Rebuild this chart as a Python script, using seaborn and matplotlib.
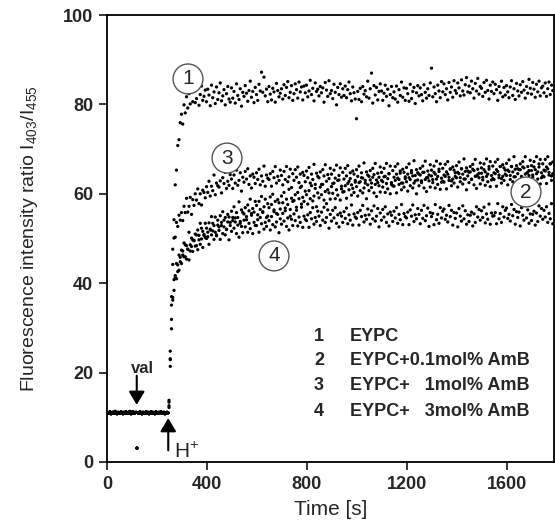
import numpy as np
import pandas as pd
import matplotlib
matplotlib.use("Agg")
import matplotlib.pyplot as plt
import seaborn as sns

# 加入 H+ 之前的基线 (每 4 s 一个点)
baseline = [
    11.1, 10.9, 11.0, 11.2, 10.8, 11.0, 11.1, 10.9, 11.3, 11.0,
    10.8, 11.1, 11.0, 10.9, 11.2, 11.0, 10.8, 11.1, 10.9, 11.2,
    11.0, 10.9, 11.1, 11.3, 10.8, 11.0, 11.2, 10.9, 11.0, 11.1,
    3.1, 11.0, 10.9, 11.2, 11.0, 10.8, 11.1, 11.0, 10.9, 11.2,
    11.0, 11.1, 10.8, 11.0, 11.2, 10.9, 11.1, 11.0, 10.8, 11.2,
    11.0, 10.9, 11.1, 11.0, 11.2, 10.9, 11.0, 11.1, 10.8, 11.0,
    11.1, 11.0,
]
base_step = 4

# 加入 H+ 之后 (从 248 s 起每 5 s 一个点)
rise_start = 248
rise_step = 5

curve1 = [
    13.4, 24.8, 35.1, 47.6, 54.2, 62.0, 65.3, 70.8, 72.1, 75.9,
    77.8, 75.6, 79.9, 78.1, 81.7, 79.2, 82.4, 80.1, 83.0, 80.6,
    82.9, 80.4, 81.3, 83.6, 79.8, 82.2, 84.1, 80.9, 81.8, 83.2,
    80.6, 83.4, 82.1, 79.7, 84.3, 81.5, 82.8, 80.2, 83.9, 81.1,
    82.6, 84.8, 80.8, 81.9, 83.3, 79.9, 82.4, 84.0, 81.2, 80.5,
    83.7, 81.4, 82.9, 80.3, 84.6, 82.0, 81.1, 83.5, 79.6, 82.7,
    81.8, 84.2, 82.5, 80.7, 83.1, 85.2, 81.6, 82.9, 80.4, 83.8,
    82.2, 80.9, 84.5, 83.0, 87.2, 82.7, 86.1, 81.9, 83.4, 80.6,
    84.0, 82.3, 81.0, 83.6, 82.8, 80.5, 84.7, 83.1, 81.7, 82.5,
    83.5, 81.2, 84.4, 82.0, 83.8, 85.1, 81.5, 82.7, 84.2, 80.9,
    82.4, 84.6, 83.3, 81.4, 85.0, 82.8, 83.9, 81.0, 84.1, 82.6,
    84.3, 81.7, 83.0, 85.4, 82.2, 83.6, 80.8, 84.8, 82.9, 83.4,
    81.9, 84.0, 82.6, 83.7, 80.5, 84.9, 83.2, 81.8, 85.3, 82.4,
    83.1, 81.3, 84.5, 82.7, 79.9, 83.8, 82.2, 84.6, 81.6, 83.5,
    82.0, 84.1, 81.5, 83.3, 85.0, 82.4, 80.8, 83.9, 82.6, 81.2,
    76.8, 82.9, 81.1, 83.6, 80.6, 84.0, 82.3, 83.1, 81.7, 85.2,
    81.4, 83.5, 87.0, 80.3, 84.2, 82.1, 83.8, 81.0, 82.9, 84.6,
    83.0, 80.9, 82.5, 84.3, 81.8, 83.4, 79.7, 82.2, 84.0, 81.5,
    82.8, 81.2, 84.1, 80.5, 83.3, 82.0, 85.0, 81.6, 83.7, 80.9,
    83.6, 82.4, 80.7, 84.5, 81.3, 82.9, 83.8, 80.2, 82.6, 84.2,
    81.9, 83.7, 82.2, 80.8, 84.4, 82.7, 81.4, 83.5, 82.0, 84.8,
    88.1, 81.7, 83.9, 82.4, 80.6, 84.3, 83.0, 81.5, 85.1, 82.8,
    84.6, 82.2, 83.5, 81.0, 84.9, 82.7, 83.9, 81.6, 85.3, 83.1,
    82.5, 84.8, 83.7, 81.9, 85.5, 83.0, 82.1, 84.4, 86.0, 82.8,
    84.1, 82.6, 85.2, 83.5, 81.4, 84.7, 83.0, 85.8, 82.3, 84.0,
    83.6, 81.8, 84.9, 82.7, 85.4, 83.1, 81.2, 84.3, 82.9, 85.0,
    82.4, 84.5, 83.3, 80.9, 84.0, 82.6, 85.2, 81.7, 83.8, 82.1,
    84.2, 82.8, 81.5, 83.9, 85.3, 82.0, 83.5, 81.1, 84.7, 83.0,
    81.9, 84.4, 82.7, 85.1, 83.2, 81.4, 84.0, 82.5, 85.6, 83.6,
    82.3, 84.9, 83.4, 81.6, 84.5, 82.8, 85.2, 81.9, 83.7, 84.1,
    82.6, 84.8, 81.8, 83.5, 85.0, 82.2, 84.3, 83.1,
]

curve2 = [
    13.8, 21.4, 31.9, 36.2, 40.8, 41.3, 44.4, 42.6, 46.3, 44.8,
    47.4, 46.3, 49.0, 45.9, 48.4, 47.6, 51.4, 47.2, 50.1, 49.7,
    49.5, 51.0, 48.4, 51.9, 50.7, 53.4, 49.9, 51.6, 50.9, 53.4,
    52.3, 50.4, 53.5, 51.9, 54.9, 51.7, 52.9, 54.8, 50.8, 54.1,
    52.6, 55.1, 53.6, 56.0, 52.6, 54.7, 52.1, 55.4, 54.8, 53.6,
    56.1, 54.7, 57.1, 53.7, 55.8, 54.7, 58.2, 53.8, 56.4, 55.8,
    55.5, 56.9, 54.2, 57.5, 56.2, 58.8, 55.2, 56.7, 55.9, 58.3,
    57.4, 55.3, 58.3, 56.5, 59.4, 56.0, 57.1, 58.8, 54.7, 57.8,
    56.9, 59.3, 57.6, 59.9, 56.4, 58.3, 55.6, 58.7, 58.0, 56.6,
    59.5, 58.0, 60.3, 56.8, 58.8, 57.6, 61.0, 56.5, 59.0, 58.3,
    58.5, 59.8, 57.0, 60.3, 58.9, 61.4, 57.7, 59.2, 58.3, 60.6,
    59.8, 57.7, 60.7, 58.9, 61.8, 58.4, 59.5, 61.2, 57.1, 60.2,
    59.1, 61.5, 59.8, 62.1, 58.6, 60.5, 57.8, 60.9, 60.2, 58.8,
    61.6, 60.1, 62.4, 58.9, 60.9, 59.7, 63.1, 58.6, 61.1, 60.4,
    60.5, 61.8, 59.0, 62.3, 60.9, 63.4, 59.7, 61.2, 60.3, 62.6,
    61.6, 59.5, 62.5, 60.7, 63.6, 60.2, 61.3, 63.0, 58.9, 62.0,
    60.7, 63.1, 61.4, 63.7, 60.2, 62.1, 59.4, 62.5, 61.8, 60.4,
    63.0, 61.5, 63.8, 60.3, 62.3, 61.1, 64.5, 60.0, 62.5, 61.8,
    61.7, 63.0, 60.2, 63.5, 62.1, 64.6, 60.9, 62.4, 61.5, 63.8,
    62.7, 60.6, 63.6, 61.8, 64.7, 61.3, 62.4, 64.1, 60.0, 63.1,
    61.8, 64.2, 62.5, 64.8, 61.3, 63.2, 60.5, 63.6, 62.9, 61.5,
    64.0, 62.5, 64.8, 61.3, 63.3, 62.1, 65.5, 61.0, 63.5, 62.8,
    62.6, 63.9, 61.1, 64.4, 63.0, 65.5, 61.8, 63.3, 62.4, 64.7,
    63.6, 61.5, 64.5, 62.7, 65.6, 62.2, 63.3, 65.0, 60.9, 64.0,
    62.5, 64.9, 63.2, 65.5, 62.0, 63.9, 61.2, 64.3, 63.6, 62.2,
    64.6, 63.1, 65.4, 61.9, 63.9, 62.7, 66.1, 61.6, 64.1, 63.4,
    63.2, 64.5, 61.7, 65.0, 63.6, 66.1, 62.4, 63.9, 63.0, 65.3,
    64.1, 62.0, 65.0, 63.2, 66.1, 62.7, 63.8, 65.5, 61.4, 64.5,
    63.0, 65.4, 63.7, 66.0, 62.5, 64.4, 61.7, 64.8, 64.1, 62.7,
    65.2, 63.7, 66.0, 62.5, 64.5, 63.3, 66.7, 62.2, 64.7, 64.0,
    63.8, 65.1, 62.3, 65.6, 64.2, 66.7, 63.0, 64.5,
]

curve3 = [
    12.6, 23.1, 37.0, 44.2, 50.1, 50.3, 53.6, 52.7, 55.2, 54.1,
    55.8, 54.0, 57.2, 55.8, 59.0, 55.9, 57.2, 59.2, 55.4, 58.7,
    57.4, 60.0, 58.6, 61.1, 57.8, 60.0, 57.5, 60.8, 60.3, 59.1,
    61.6, 60.3, 62.8, 59.5, 61.7, 60.7, 64.2, 59.8, 62.4, 61.8,
    61.5, 62.9, 60.2, 63.6, 62.3, 64.8, 61.2, 62.8, 61.9, 64.3,
    63.3, 61.2, 64.2, 62.4, 65.3, 61.9, 63.0, 64.7, 60.6, 63.7,
    62.6, 65.0, 63.3, 65.6, 62.1, 64.0, 61.3, 64.4, 63.7, 62.3,
    64.7, 63.2, 65.5, 62.0, 64.0, 62.8, 66.2, 61.7, 64.2, 63.5,
    63.2, 64.5, 61.7, 65.0, 63.6, 66.1, 62.4, 63.9, 63.0, 65.3,
    64.1, 62.0, 65.0, 63.2, 66.1, 62.7, 63.8, 65.5, 61.4, 64.5,
    63.0, 65.4, 63.7, 66.0, 62.5, 64.4, 61.7, 64.8, 64.1, 62.7,
    65.1, 63.6, 65.9, 62.4, 64.4, 63.2, 66.6, 62.1, 64.6, 63.9,
    63.6, 64.9, 62.1, 65.4, 64.0, 66.5, 62.8, 64.3, 63.4, 65.7,
    64.4, 62.3, 65.3, 63.5, 66.4, 63.0, 64.1, 65.8, 61.7, 64.8,
    63.3, 65.7, 64.0, 66.3, 62.8, 64.7, 62.0, 65.1, 64.4, 63.0,
    65.4, 63.9, 66.2, 62.7, 64.7, 63.5, 66.9, 62.4, 64.9, 64.2,
    63.9, 65.2, 62.4, 65.7, 64.3, 66.8, 63.1, 64.6, 63.7, 66.0,
    64.8, 62.7, 65.7, 63.9, 66.8, 63.4, 64.5, 66.2, 62.1, 65.2,
    63.7, 66.1, 64.4, 66.7, 63.2, 65.1, 62.4, 65.5, 64.8, 63.4,
    65.9, 64.4, 66.7, 63.2, 65.2, 64.0, 67.4, 62.9, 65.4, 64.7,
    64.4, 65.7, 62.9, 66.2, 64.8, 67.3, 63.6, 65.1, 64.2, 66.5,
    65.3, 63.2, 66.2, 64.4, 67.3, 63.9, 65.0, 66.7, 62.6, 65.7,
    64.2, 66.6, 64.9, 67.2, 63.7, 65.6, 62.9, 66.0, 65.3, 63.9,
    66.3, 64.8, 67.1, 63.6, 65.6, 64.4, 67.8, 63.3, 65.8, 65.1,
    64.8, 66.1, 63.3, 66.6, 65.2, 67.7, 64.0, 65.5, 64.6, 66.9,
    65.8, 63.7, 66.7, 64.9, 67.8, 64.4, 65.5, 67.2, 63.1, 66.2,
    64.7, 67.1, 65.4, 67.7, 64.2, 66.1, 63.4, 66.5, 65.8, 64.4,
    66.8, 65.3, 67.6, 64.1, 66.1, 64.9, 68.3, 63.8, 66.3, 65.6,
    65.4, 66.7, 63.9, 67.2, 65.8, 68.3, 64.6, 66.1, 65.2, 67.5,
    66.3, 64.2, 67.2, 65.4, 68.3, 64.9, 66.0, 67.7, 63.6, 66.7,
    65.3, 67.7, 66.0, 68.3, 64.8, 66.7, 64.0, 67.1,
]

curve4 = [
    12.2, 22.9, 29.8, 36.8, 38.4, 41.7, 41.0, 44.1, 42.9, 45.8,
    44.4, 47.2, 45.9, 48.6, 45.4, 47.6, 45.2, 48.6, 48.2, 47.1,
    49.6, 48.3, 50.8, 47.5, 49.7, 48.7, 52.3, 48.0, 50.7, 50.2,
    50.0, 51.4, 48.7, 52.1, 50.8, 53.4, 49.8, 51.4, 50.6, 53.0,
    51.8, 49.8, 52.9, 51.1, 54.1, 50.8, 52.0, 53.7, 49.7, 52.9,
    51.6, 54.0, 52.3, 54.6, 51.1, 53.0, 50.3, 53.4, 52.7, 51.3,
    54.1, 52.6, 54.9, 51.4, 53.4, 52.2, 55.6, 51.1, 53.6, 52.9,
    52.9, 54.2, 51.4, 54.7, 53.3, 55.8, 52.1, 53.6, 52.7, 55.0,
    54.0, 51.9, 54.9, 53.1, 56.0, 52.6, 53.7, 55.4, 51.3, 54.4,
    53.2, 55.6, 53.9, 56.2, 52.7, 54.6, 51.9, 55.0, 54.3, 52.9,
    55.5, 54.0, 56.3, 52.8, 54.8, 53.6, 57.0, 52.5, 55.0, 54.3,
    54.0, 55.3, 52.5, 55.8, 54.4, 56.9, 53.2, 54.7, 53.8, 56.1,
    55.0, 52.9, 55.9, 54.1, 57.0, 53.6, 54.7, 56.4, 52.3, 55.4,
    53.9, 56.3, 54.6, 56.9, 53.4, 55.3, 52.6, 55.7, 55.0, 53.6,
    56.0, 54.5, 56.8, 53.3, 55.3, 54.1, 57.5, 53.0, 55.5, 54.8,
    54.5, 55.8, 53.0, 56.3, 54.9, 57.4, 53.7, 55.2, 54.3, 56.6,
    55.3, 53.2, 56.2, 54.4, 57.3, 53.9, 55.0, 56.7, 52.6, 55.7,
    54.1, 56.5, 54.8, 57.1, 53.6, 55.5, 52.8, 55.9, 55.2, 53.8,
    56.1, 54.6, 56.9, 53.4, 55.4, 54.2, 57.6, 53.1, 55.6, 54.9,
    54.6, 55.9, 53.1, 56.4, 55.0, 57.5, 53.8, 55.3, 54.4, 56.7,
    55.4, 53.3, 56.3, 54.5, 57.4, 54.0, 55.1, 56.8, 52.7, 55.8,
    54.9, 55.6, 53.1, 57.6, 54.2, 55.4, 53.4, 56.9, 54.6, 56.1,
    56.6, 54.3, 55.2, 53.7, 57.4, 54.9, 56.3, 53.0, 55.8, 54.5,
    55.7, 52.6, 56.7, 55.0, 53.9, 57.3, 54.4, 56.2, 53.2, 55.3,
    53.8, 55.2, 55.9, 52.8, 55.5, 53.6, 57.1, 54.8, 56.5, 54.1,
    56.2, 54.7, 57.0, 53.5, 55.5, 54.3, 57.7, 53.2, 55.7, 55.0,
    55.1, 55.8, 53.3, 57.8, 54.4, 55.6, 53.6, 57.1, 54.8, 56.3,
    56.8, 54.5, 55.4, 53.9, 57.6, 55.1, 56.5, 53.2, 56.0, 54.7,
    55.9, 52.8, 56.9, 55.2, 54.1, 57.5, 54.6, 56.4, 53.4, 55.5,
    54.0, 55.4, 56.1, 53.0, 55.7, 53.8, 57.3, 55.0, 56.7, 54.3,
    56.3, 54.8, 57.1, 53.6, 55.6, 54.4, 57.8, 53.3,
]

samples = ["1", "2", "3", "4"]
sample_names = ["EYPC", "EYPC+0.1mol% AmB", "EYPC+   1mol% AmB", "EYPC+   3mol% AmB"]
curves = [curve1, curve2, curve3, curve4]
# 曲线编号圆圈的位置 (时间, 比值)
label_pos = {"1": (324, 85.7), "2": (1676, 60.4), "3": (480, 68.0), "4": (668, 46.1)}

x_ticks = [0, 400, 800, 1200, 1600]
y_ticks = [0, 20, 40, 60, 80, 100]

# 整理成长表
frames = []
t_base = base_step * np.arange(len(baseline))
for name, vals in zip(samples, curves):
    t_rise = rise_start + rise_step * np.arange(len(vals))
    frames.append(pd.DataFrame({"time": np.concatenate([t_base, t_rise]),
                                "ratio": np.concatenate([baseline, vals]),
                                "sample": name}))
df = pd.concat(frames, ignore_index=True)

sns.set_style("ticks")
plt.rcParams["font.family"] = ["Liberation Sans", "DejaVu Sans"]
plt.rcParams["axes.linewidth"] = 1.3

fig = plt.figure(figsize=(5.55, 5.25), dpi=100)
ax = fig.add_axes([107 / 555, 1 - 462 / 525, 447 / 555, 447 / 525])

sns.scatterplot(data=df, x="time", y="ratio", hue="sample",
                palette=["black"] * 4, s=5.5, linewidth=0, legend=False, ax=ax)

ax.set_xlim(0, 1788)
ax.set_ylim(0, 100)
ax.set_xticks(x_ticks)
ax.set_yticks(y_ticks)
ax.tick_params(direction="out", length=6, width=1.3, labelsize=13, pad=4)
for lab in ax.get_xticklabels() + ax.get_yticklabels():
    lab.set_fontweight("bold")
for sp in ax.spines.values():
    sp.set_visible(True)
    sp.set_linewidth(1.3)
    sp.set_color("black")

ax.set_xlabel("Time [s]", fontsize=15)
ax.set_ylabel("Fluorescence intensity ratio I$_{\\mathregular{403}}$/I$_{\\mathregular{455}}$",
              fontsize=14)
ax.xaxis.set_label_coords(0.5, -0.085)
ax.yaxis.set_label_coords(-0.15, 0.5)

# 圆圈编号
for name in samples:
    x, y = label_pos[name]
    ax.text(x, y, name, ha="center", va="center", fontsize=15,
            bbox=dict(boxstyle="circle,pad=0.26", fc="white", ec="#555555", lw=1.0))

# 图例文字
legend_y = [28.0, 22.6, 17.1, 11.4]
for name, full, y in zip(samples, sample_names, legend_y):
    ax.text(848, y, name, ha="center", va="center", fontsize=13, fontweight="bold")
    ax.text(972, y, full, ha="left", va="center", fontsize=13, fontweight="bold")

# 箭头: val 与 H+
arrow_style = dict(arrowstyle="-|>,head_length=0.5,head_width=0.3", color="black",
                   lw=1.5, mutation_scale=16, shrinkA=0, shrinkB=0)
ax.annotate("", xy=(119, 12.8), xytext=(119, 19.3), arrowprops=arrow_style)
ax.text(140, 21.0, "val", ha="center", va="center", fontsize=12, fontweight="bold")
ax.annotate("", xy=(245, 9.8), xytext=(245, 2.6), arrowprops=arrow_style)
ax.text(270, 0.8, "H$^{\\mathregular{+}}$", ha="left", va="baseline", fontsize=15)

fig.savefig("out.png", dpi=100)
